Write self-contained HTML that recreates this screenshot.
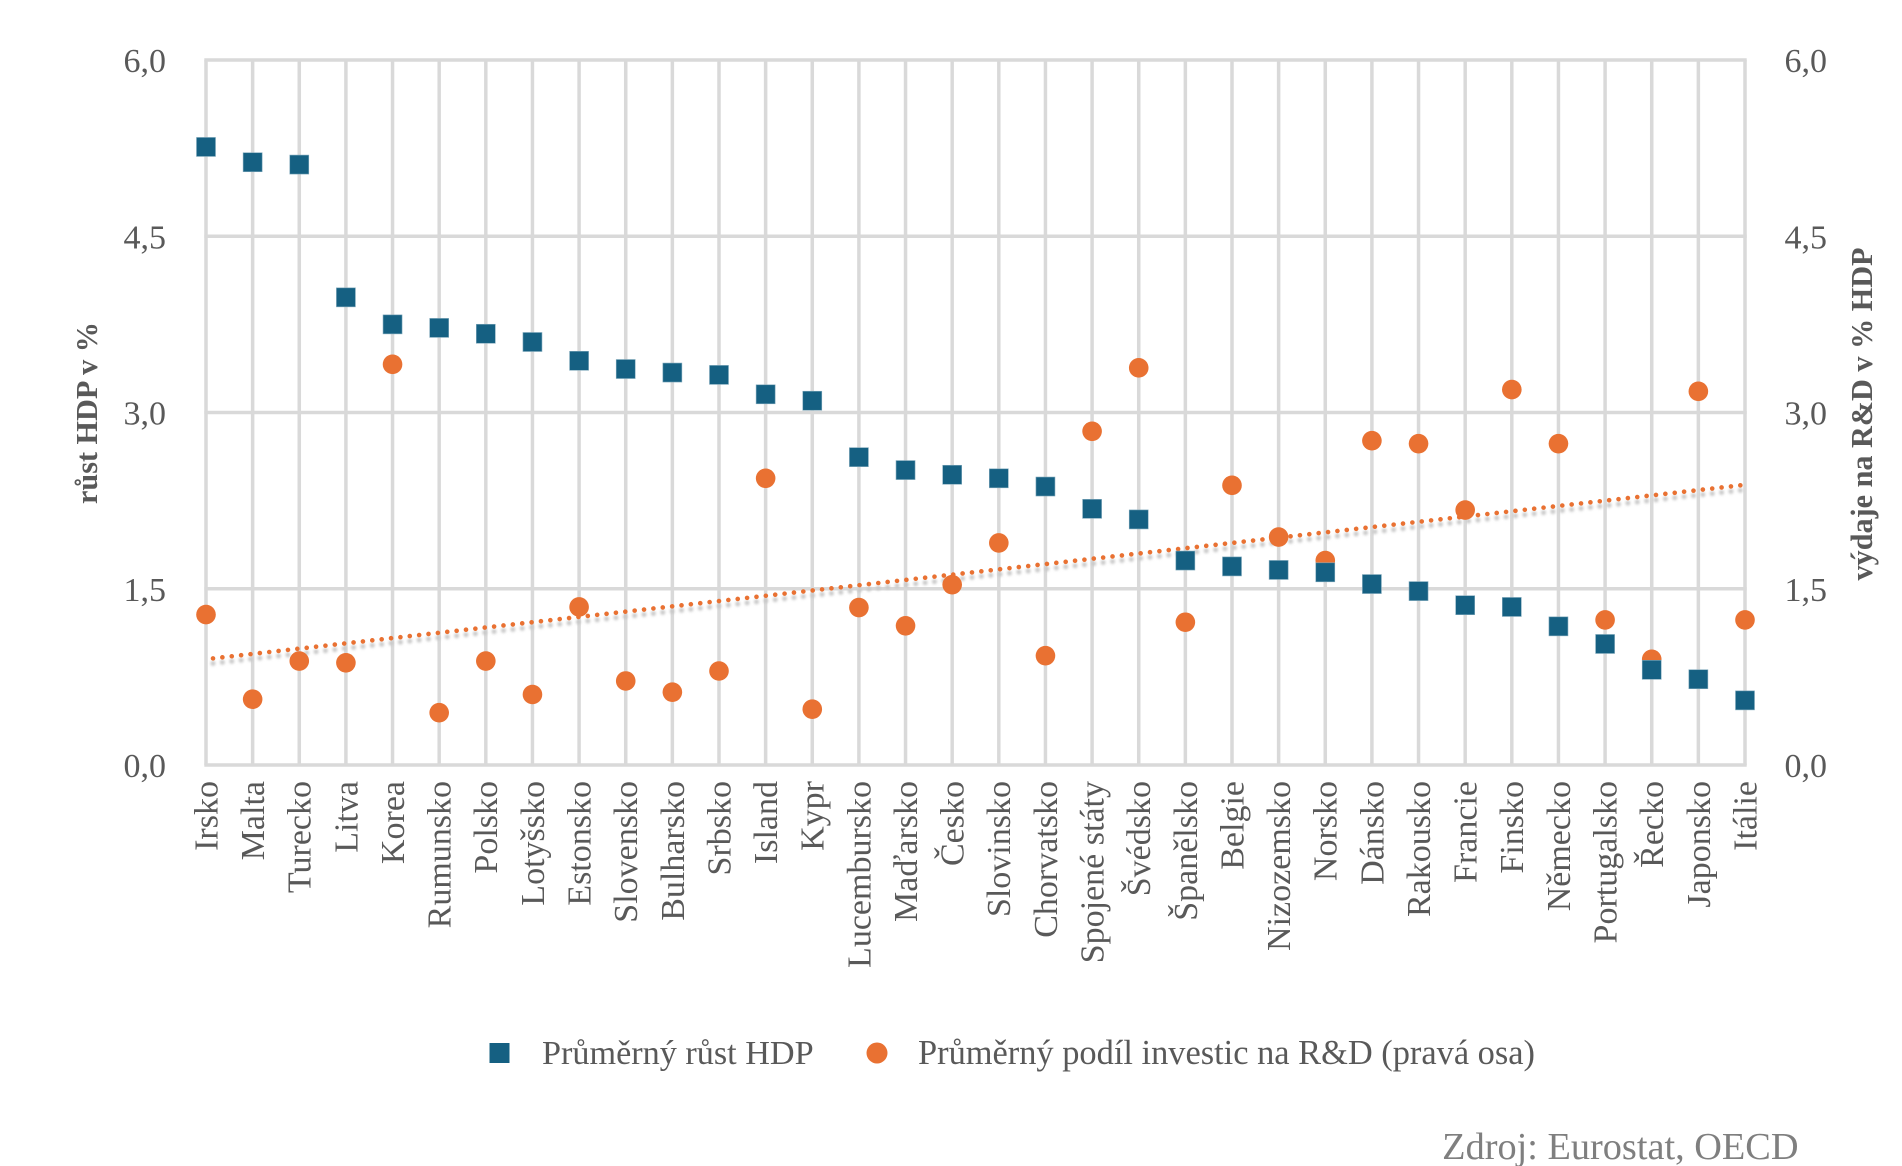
<!DOCTYPE html>
<html lang="cs">
<head>
<meta charset="utf-8">
<title>Růst HDP a výdaje na R&amp;D</title>
<style>
html,body{margin:0;padding:0;background:#fff;}
svg{display:block;font-family:"Liberation Serif",serif;}
</style>
</head>
<body>
<svg id="chart" xmlns="http://www.w3.org/2000/svg" width="1902" height="1166" viewBox="0 0 1902 1166">
  <defs>
    <filter id="soft" x="-5%" y="-200%" width="110%" height="500%"><feGaussianBlur stdDeviation="1.3"/></filter>
  </defs>
  <rect width="1902" height="1166" fill="#fff"/>
  <g id="grid"></g>
  <g id="trend"></g>
  <g id="rdmarks"></g>
  <g id="gdpmarks"></g>
  <g id="ylabels"></g>
  <g id="y2labels"></g>
  <g id="xlabels"></g>
  <text transform="translate(97 413) rotate(-90)" text-anchor="middle" font-size="30.2" font-weight="bold" fill="#595959">růst HDP v %</text>
  <text transform="translate(1872 414) rotate(-90)" text-anchor="middle" font-size="30.2" font-weight="bold" fill="#595959">výdaje na R&amp;D v % HDP</text>
  <g>
    <rect x="492" y="1048" width="20" height="20" fill="#156082" transform="translate(-2.5 -5)"/>
    <text x="542" y="1064" font-size="34.2" fill="#595959">Průměrný růst HDP</text>
    <circle cx="877" cy="1053" r="10.5" fill="#E97132"/>
    <text x="918" y="1064" font-size="34.4" fill="#595959">Průměrný podíl investic na R&amp;D (pravá osa)</text>
  </g>
  <text x="1798.5" y="1159" text-anchor="end" font-size="38.3" fill="#7f7f7f">Zdroj: Eurostat, OECD</text>
</svg>
<script>
const categories = ["Irsko","Malta","Turecko","Litva","Korea","Rumunsko","Polsko","Lotyšsko","Estonsko","Slovensko","Bulharsko","Srbsko","Island","Kypr","Lucembursko","Maďarsko","Česko","Slovinsko","Chorvatsko","Spojené státy","Švédsko","Španělsko","Belgie","Nizozemsko","Norsko","Dánsko","Rakousko","Francie","Finsko","Německo","Portugalsko","Řecko","Japonsko","Itálie"];
const gdpGrowth = [5.26,5.13,5.11,3.98,3.75,3.72,3.67,3.60,3.44,3.37,3.34,3.32,3.155,3.10,2.62,2.51,2.47,2.44,2.37,2.18,2.09,1.74,1.69,1.66,1.64,1.54,1.48,1.36,1.345,1.18,1.03,0.81,0.73,0.55];
const rdShare = [1.28,0.56,0.885,0.87,3.41,0.445,0.885,0.60,1.345,0.715,0.62,0.80,2.44,0.475,1.34,1.185,1.535,1.89,0.93,2.84,3.38,1.215,2.38,1.94,1.74,2.76,2.735,2.17,3.195,2.735,1.235,0.90,3.18,1.235];
const yTicks = [0,1.5,3,4.5,6];
const yTickLabels = ["0,0","1,5","3,0","4,5","6,0"];

const NS = "http://www.w3.org/2000/svg";
const plotLeft = 206, plotRight = 1745, plotTop = 60, plotBottom = 765, yMax = 6;
function xAt(i){ return plotLeft + i * (plotRight - plotLeft) / (categories.length - 1); }
function yAt(v){ return plotBottom - (v / yMax) * (plotBottom - plotTop); }
function make(tag, parent, props){
  const el = document.createElementNS(NS, tag);
  for (const k in props) el.setAttribute(k, props[k]);
  parent.appendChild(el);
  return el;
}

const grid = document.getElementById("grid");
categories.forEach(function(c, i){
  const line = make("line", grid, {x1:xAt(i), x2:xAt(i), y1:plotTop, y2:plotBottom, stroke:"#d9d9d9", "stroke-width":3.5});
  
  
});
yTicks.forEach(function(t){
  const line = make("line", grid, {x1:plotLeft-1.7, x2:plotRight+1.7, y1:yAt(t), y2:yAt(t), stroke:"#d9d9d9", "stroke-width":3.5});
  
  
});

yTicks.forEach(function(t, i){
  const left = make("text", document.getElementById("ylabels"), {x:166, y:yAt(t)+12, "text-anchor":"end", "font-size":34, fill:"#595959"});
  left.textContent = yTickLabels[i];
  
  
  const right = make("text", document.getElementById("y2labels"), {x:1784.5, y:yAt(t)+12, "text-anchor":"start", "font-size":34, fill:"#595959"});
  right.textContent = yTickLabels[i];
  
  
});

categories.forEach(function(c, i){
  const tx = xAt(i) + 11.4, ty = 781;
  const label = make("text", document.getElementById("xlabels"), {transform:"translate("+tx+" "+ty+") rotate(-90)", "text-anchor":"end", "font-size":34, fill:"#595959"});
  label.textContent = c;
  
  
});

/* linear trendline fitted to the R&D series */
const n = rdShare.length;
let sx = 0, sy = 0, sxy = 0, sxx = 0;
rdShare.forEach(function(v, i){ sx += i; sy += v; sxy += i * v; sxx += i * i; });
const slope = (n * sxy - sx * sy) / (n * sxx - sx * sx);
const intercept = (sy - slope * sx) / n;
const trendGroup = document.getElementById("trend");
const tx1 = xAt(0) + 7, tx2 = xAt(n - 1) - 3;
const ty1 = yAt(intercept + slope * ((tx1 - plotLeft) / (xAt(1) - xAt(0))));
const ty2 = yAt(intercept + slope * ((tx2 - plotLeft) / (xAt(1) - xAt(0))));
const trendShadow = make("line", trendGroup, {x1:tx1, x2:tx2, y1:ty1+5, y2:ty2+5, stroke:"#c8c8c8", "stroke-width":5, "stroke-linecap":"round", "stroke-dasharray":"0.01 9.42", filter:"url(#soft)"});


const trendLine = make("line", trendGroup, {x1:tx1, x2:tx2, y1:ty1, y2:ty2, stroke:"#E97132", "stroke-width":4.6, "stroke-linecap":"round", "stroke-dasharray":"0.01 9.42"});



rdShare.forEach(function(v, i){
  const dot = make("circle", document.getElementById("rdmarks"), {cx:xAt(i), cy:yAt(v), r:9.8, fill:"#E97132"});
  
  
});
gdpGrowth.forEach(function(v, i){
  const sq = make("rect", document.getElementById("gdpmarks"), {x:xAt(i)-9.5, y:yAt(v)-9.5, width:19, height:19, fill:"#156082", stroke:"#7fa8bb", "stroke-width":0.6});
  
  
});
</script>
</body>
</html>
